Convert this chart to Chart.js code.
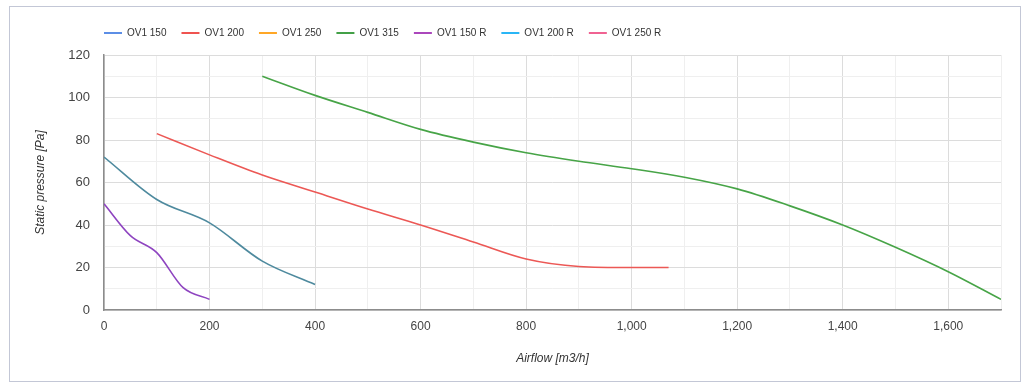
<!DOCTYPE html>
<html>
<head>
<meta charset="utf-8">
<script src="https://cdn.jsdelivr.net/npm/chart.js@4.4.1/dist/chart.umd.min.js"></script>
<style>
  html, body { margin: 0; padding: 0; background: #ffffff; }
  #frame { position: absolute; left: 9px; top: 6px; width: 1010px; height: 374px; border: 1px solid #c3c7d6; background: #fff; }
  #frame canvas { display: block; }
</style>
</head>
<body>
<div id="frame"><canvas id="c" width="1010" height="374"></canvas></div>
<script>
// ---- data ----
const seriesNames = ['OV1 150', 'OV1 200', 'OV1 250', 'OV1 315', 'OV1 150 R', 'OV1 200 R', 'OV1 250 R'];

const ov150Airflow = [0, 100, 200, 300, 400];
const ov150Pressure = [72, 52, 41, 23, 12];

const ov200Airflow = [100, 200, 300, 400, 500, 600, 700, 800, 900, 1000, 1070];
const ov200Pressure = [83, 73, 63.5, 55.5, 47.5, 40, 32, 24, 20.5, 20, 20];

const ov250Airflow = [];
const ov250Pressure = [];

const ov315Airflow = [300, 400, 500, 600, 700, 800, 900, 1000, 1100, 1200, 1300, 1400, 1500, 1600, 1700];
const ov315Pressure = [110, 101, 93, 85, 79, 74, 70, 66.5, 62.5, 57, 49, 40, 29.5, 18, 5];

const ov150RAirflow = [0, 50, 100, 150, 200];
const ov150RPressure = [50, 35, 27, 10.5, 5];

const ov200RAirflow = [];
const ov200RPressure = [];

const ov250RAirflow = [];
const ov250RPressure = [];

const xTickStep = 100;   // gridline step, labels every 200
const yTickStep = 10;    // gridline step, labels every 20

// ---- styles ----
const legendColors = ['#5c8ee6', '#ef5350', '#ffa726', '#43a047', '#ab47bc', '#29b6f6', '#f06292'];
const lineColors   = ['#4e8a9e', '#ec5855', '#ffa726', '#47a447', '#8e44c0', '#29b6f6', '#f06292'];

const xs = [ov150Airflow, ov200Airflow, ov250Airflow, ov315Airflow, ov150RAirflow, ov200RAirflow, ov250RAirflow];
const ys = [ov150Pressure, ov200Pressure, ov250Pressure, ov315Pressure, ov150RPressure, ov200RPressure, ov250RPressure];

const datasets = seriesNames.map((name, i) => ({
  label: name,
  data: xs[i].map((x, j) => ({ x: x, y: ys[i][j] })),
  borderColor: lineColors[i],
  backgroundColor: lineColors[i],
  borderWidth: 1.6,
  pointRadius: 0,
  pointHoverRadius: 0,
  fill: false,
  cubicInterpolationMode: 'monotone'
}));

// move the legend so it starts at the plot's left edge, a little above the plot
const legendPlacer = {
  id: 'legendPlacer',
  afterLayout(chart) {
    const lg = chart.legend;
    if (!lg) return;
    lg.left = chart.chartArea.left - 15;
    lg.top -= 7;
    lg.bottom -= 7;
  }
};

Chart.defaults.font.family = "'Liberation Sans', Arial, sans-serif";
Chart.defaults.color = '#444';

new Chart(document.getElementById('c'), {
  type: 'line',
  data: { datasets: datasets },
  plugins: [legendPlacer],
  options: {
    responsive: false,
    animation: false,
    layout: { padding: { top: 13, right: 19, bottom: 0, left: 0 } },
    plugins: {
      tooltip: { enabled: false },
      legend: {
        position: 'top',
        align: 'start',
        labels: {
          usePointStyle: true,
          pointStyle: 'line',
          pointStyleWidth: 18,
          padding: 15,
          color: '#333',
          font: { size: 10 },
          generateLabels: (chart) => {
            const items = Chart.defaults.plugins.legend.labels.generateLabels(chart);
            items.forEach((it, i) => {
              it.strokeStyle = legendColors[i];
              it.fillStyle = legendColors[i];
              it.lineWidth = 2;
              it.pointStyle = 'line';
            });
            return items;
          }
        }
      }
    },
    scales: {
      x: {
        type: 'linear',
        min: 0,
        max: 1700,
        afterFit: (s) => { s.height = 71; },
        ticks: {
          stepSize: xTickStep,
          autoSkip: false,
          maxRotation: 0,
          padding: 9,
          color: '#444',
          font: { size: 12 },
          callback: (v) => (v % 200 === 0 && v < 1700) ? v.toLocaleString('en-US') : ''
        },
        grid: {
          drawTicks: false,
          color: (ctx) => (ctx.tick && ctx.tick.value % 200 === 0) ? '#dcdcdc' : '#efefef',
          lineWidth: 1
        },
        border: { color: '#8c8c8c', width: 1.5 },
        title: {
          display: true,
          text: 'Airflow [m3/h]',
          color: '#333',
          font: { size: 12, style: 'italic' },
          padding: { top: 0, bottom: 15 }
        }
      },
      y: {
        min: 0,
        max: 120,
        afterFit: (s) => { s.width = 94; },
        ticks: {
          stepSize: yTickStep,
          autoSkip: false,
          padding: 14,
          color: '#444',
          font: { size: 13 },
          callback: (v) => (v % 20 === 0) ? v : ''
        },
        grid: {
          drawTicks: false,
          color: (ctx) => (ctx.tick && ctx.tick.value % 20 === 0) ? '#dcdcdc' : '#efefef',
          lineWidth: 1
        },
        border: { color: '#8c8c8c', width: 1.5 },
        title: {
          display: true,
          text: 'Static pressure [Pa]',
          color: '#333',
          font: { size: 12, style: 'italic' },
          padding: { top: 23, bottom: 0 }
        }
      }
    }
  }
});
</script>
</body>
</html>
